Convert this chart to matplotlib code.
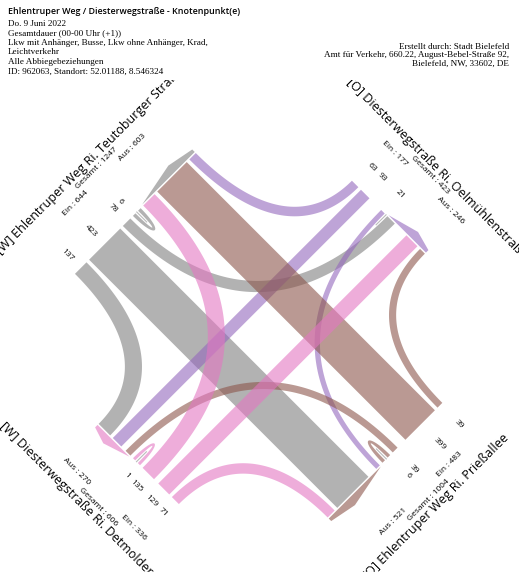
import numpy as np
import matplotlib.pyplot as plt

W, H = 519, 572
TOP = 80  # diagram area starts below the header

# arms in clockwise order: NW (top), NE (right), SE (bottom), SW (left)
ARM_NAMES = [
    "[W] Ehlentruper Weg Ri. Teutoburger Straße",
    "[O] Diesterwegstraße Ri. Oelmühlenstraße",
    "[O] Ehlentruper Weg Ri. Prießallee",
    "[W] Diesterwegstraße Ri. Detmolder Straße",
]
RIGHT = [137, 63, 39, 71]       # right turn of each arm
STRAIGHT = [423, 93, 399, 129]  # straight on
LEFT = [78, 21, 39, 135]        # left turn
UTURN = [6, 0, 6, 1]
EIN = [644, 177, 483, 336]
AUS = [603, 246, 521, 270]
GESAMT = [1247, 423, 1004, 606]
COLORS = ["tab:gray", "tab:purple", "tab:brown", "tab:pink"]

HEADER_TITLE = "Ehlentruper Weg / Diesterwegstraße - Knotenpunkt(e)"
HEADER_LINES = [
    "Do. 9 Juni 2022",
    "Gesamtdauer (00-00 Uhr (+1))",
    "Lkw mit Anhänger, Busse, Lkw ohne Anhänger, Krad,",
    "Leichtverkehr",
    "Alle Abbiegebeziehungen",
    "ID: 962063, Standort: 52.01188, 8.546324",
]
CREDIT_LINES = [
    "Erstellt durch: Stadt Bielefeld",
    "Amt für Verkehr, 660.22, August-Bebel-Straße 92,",
    "Bielefeld, NW, 33602, DE",
]

# geometry (pixels)
CX, CY, L = 260.0, 337.0, 175.5
OX, OY = 4.0, -5.5
GAP = 3.7
F = 0.66
S2 = np.sqrt(0.5)
NORMALS = [np.array(v, float) for v in [(0, -1), (-1, 0), (0, 1), (1, 0)]]


def width(v):
    return 3 + 0.097 * v if v > 0 else 0.0


def side_pt(i, t, out=0.0):
    if i == 0:
        return np.array([t + OX, L + out])
    if i == 1:
        return np.array([L + out, -t + OY])
    if i == 2:
        return np.array([-t + OX, -L - out])
    return np.array([-L - out, t + OY])


def to_px(p):
    p = np.atleast_2d(p)
    return CX + (p[:, 0] - p[:, 1]) * S2, CY - (p[:, 0] + p[:, 1]) * S2


def bez(p0, p1, p2, p3, n=80):
    s = np.linspace(0, 1, n)[:, None]
    return (1 - s) ** 3 * p0 + 3 * (1 - s) ** 2 * s * p1 + 3 * (1 - s) * s ** 2 * p2 + s ** 3 * p3


def edge(a, na, b, nb):
    d = b - a
    return bez(a, a + F * abs(d @ na) * na, b + F * abs(d @ nb) * nb, b)


def middle_items(i):
    return [("iL", LEFT[i]), ("iU", UTURN[i]), ("aU", UTURN[i]), ("aL", LEFT[(i - 1) % 4])]


# middle block width, shared by all sides
M = 0
for i in range(4):
    ws = [width(v) for _, v in middle_items(i) if v > 0]
    M = max(M, sum(ws) + (len(ws) + 1) * GAP)

slots = []
for i in range(4):
    sl = {}
    ws, wr = width(STRAIGHT[i]), width(RIGHT[i])
    sl["iS"] = (-M / 2 - ws, -M / 2)
    sl["iR"] = (-M / 2 - ws - GAP - wr, -M / 2 - ws - GAP)
    items = [(k, width(v)) for k, v in middle_items(i)]
    nz = [w for _, w in items if w > 0]
    tot = sum(nz) + (len(nz) - 1) * GAP
    t = -tot / 2
    for k, w in items:
        if w > 0:
            sl[k] = (t, t + w)
            t += w + GAP
        else:
            sl[k] = (t - GAP / 2, t - GAP / 2)
    wsa, wra = width(STRAIGHT[(i + 2) % 4]), width(RIGHT[(i + 1) % 4])
    sl["aS"] = (M / 2, M / 2 + wsa)
    sl["aR"] = (M / 2 + wsa + GAP, M / 2 + wsa + GAP + wra)
    slots.append(sl)

fig = plt.figure(figsize=(W / 100, H / 100), dpi=100)
ax = fig.add_axes([0, 0, 1, (H - TOP) / H])
ax.set_xlim(0, W)
ax.set_ylim(H, TOP)
ax.axis("off")

ALPHA = 0.6

# outgoing arrows on each side
for i in range(4):
    sl = slots[i]
    s0 = sl["aL"][0] if LEFT[(i - 1) % 4] > 0 else sl["aS"][0]
    s1 = sl["aR"][1]
    pts = [side_pt(i, s0, 1.5), side_pt(i, s0 + 0.62 * (s1 - s0), 10.5),
           side_pt(i, s1, 5), side_pt(i, s1, 1.5)]
    x, y = to_px(np.array(pts))
    ax.fill(x, y, color=COLORS[i], alpha=ALPHA, lw=0)

# flows
for i in range(4):
    n_i = NORMALS[i]
    for kind, vals, dest, akey in [("iR", RIGHT, (i - 1) % 4, "aR"),
                                    ("iS", STRAIGHT, (i + 2) % 4, "aS"),
                                    ("iL", LEFT, (i + 1) % 4, "aL")]:
        if vals[i] <= 0:
            continue
        a1, a2 = slots[i][kind]
        b1, b2 = slots[dest][akey]
        n_j = NORMALS[dest]
        e1 = edge(side_pt(i, a1), n_i, side_pt(dest, b2), n_j)
        e2 = edge(side_pt(i, a2), n_i, side_pt(dest, b1), n_j)
        x, y = to_px(np.vstack([e1, e2[::-1]]))
        ax.fill(x, y, color=COLORS[i], alpha=ALPHA, lw=0)

    # u-turn hairpin
    a1, a2 = slots[i]["iU"]
    b1, b2 = slots[i]["aU"]
    mid = (a2 + b1) / 2
    if UTURN[i] > 0:
        w = width(UTURN[i])
        k_out = 34.0
        k_in = (0.75 * k_out - w) / 0.75
        A1, A2, B1, B2 = (side_pt(i, v) for v in (a1, a2, b1, b2))
        e1 = bez(A1, A1 + k_out * n_i, B2 + k_out * n_i, B2)
        e2 = bez(A2, A2 + k_in * n_i, B1 + k_in * n_i, B1)
        x, y = to_px(np.vstack([e1, e2[::-1]]))
        ax.fill(x, y, color=COLORS[i], alpha=ALPHA, lw=0)
    p0 = side_pt(i, mid)
    x, y = to_px(np.vstack([p0, p0 + 14 * n_i]))
    ax.plot(x, y, color="#bbbbbb", lw=0.8)

# texts around the junction
ROT = [45, -45, 45, -45]
NUM_OUT = [19, 24, 27, 17]
for i in range(4):
    x, y = to_px(side_pt(i, 0, 69))
    ax.text(x[0], y[0], ARM_NAMES[i], rotation=ROT[i], ha="center", va="center",
            rotation_mode="anchor", fontsize=9, family="Open Sans", clip_on=True)
    for t, out, txt in [(-40, 49, f"Ein : {EIN[i]}"), (0, 59, f"Gesamt : {GESAMT[i]}"),
                        (40, 49, f"Aus : {AUS[i]}")]:
        x, y = to_px(side_pt(i, t, out))
        ax.text(x[0], y[0], txt, rotation=ROT[i], ha="center", va="center",
                rotation_mode="anchor", fontsize=6, family="Open Sans", clip_on=True)
    for kind, vals in [("iR", RIGHT), ("iS", STRAIGHT), ("iL", LEFT), ("iU", UTURN)]:
        if vals[i] <= 0:
            continue
        a1, a2 = slots[i][kind]
        x, y = to_px(side_pt(i, (a1 + a2) / 2, NUM_OUT[i]))
        ax.text(x[0], y[0], str(vals[i]), rotation=-45, ha="center", va="center",
                rotation_mode="anchor", fontsize=6, family="Open Sans")

# header
fig.text(8 / W, 1 - 11 / H, HEADER_TITLE, fontsize=6.4, family="Open Sans",
         fontweight="semibold", ha="left", va="center")
for k, line in enumerate(HEADER_LINES):
    fig.text(8 / W, 1 - (23.5 + 9.65 * k) / H, line, fontsize=6.6,
             family="Liberation Serif", ha="left", va="center")
for k, line in enumerate(CREDIT_LINES):
    fig.text(509 / W, 1 - (46.7 + 8.4 * k) / H, line, fontsize=6.6,
             family="Liberation Serif", ha="right", va="center")

fig.savefig("out.png", dpi=100, facecolor="white")
